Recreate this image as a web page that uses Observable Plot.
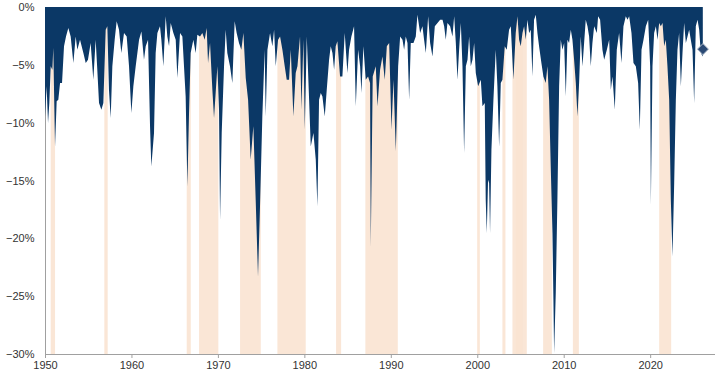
<!DOCTYPE html>
<html>
<head>
<meta charset="utf-8">
<script src="https://cdn.jsdelivr.net/npm/d3@7"></script>
<script src="https://cdn.jsdelivr.net/npm/@observablehq/plot@0.6"></script>
<style>
  html, body { margin: 0; padding: 0; background: #fff; }
  svg { display: block; }
</style>
</head>
<body>
<div id="chart"></div>
<script>
// Drawdown (%) by decimal year, grouped by era
const era1950s = [
  [1950.00,-9.46],[1950.19,-6.86],[1950.35,-10.03],[1950.50,-8.30],[1950.66,-5.13],[1950.85,-5.42],[1950.96,-3.55],
  [1951.16,-12.05],[1951.35,-8.15],[1951.54,-8.01],[1951.74,-6.57],[1951.97,-6.57],[1952.20,-3.40],[1952.43,-2.54],
  [1952.70,-1.82],[1952.97,-2.54],[1953.28,-4.84],[1953.55,-2.54],[1953.74,-3.69],[1954.05,-2.83],[1954.44,-3.98],
  [1954.71,-4.84],[1954.97,-4.56],[1955.28,-3.11],[1955.59,-6.29],[1955.86,-2.83],[1956.05,-5.42],[1956.25,-8.30],
  [1956.52,-8.88],[1956.75,-8.30],[1957.02,-1.96],[1957.21,-1.67],[1957.40,-7.15],[1957.60,-9.60],[1957.79,-5.13],
  [1958.06,-2.83],[1958.29,-1.24],[1958.56,-1.96],[1958.83,-3.98],[1959.14,-2.25],[1959.45,-2.54],[1959.72,-5.13],
  [1959.99,-9.16],[1960.22,-6.86],[1960.49,-5.13],[1960.88,-2.83],[1961.15,-2.11],[1961.45,-4.56],[1961.65,-3.40],
  [1961.92,-2.83],[1962.15,-10.32],[1962.30,-13.78],[1962.61,-10.89]
];
const era1960s = [
  [1962.80,-3.98],[1963.00,-2.25],[1963.30,-1.67],[1963.46,-2.83],[1963.69,-5.13],[1963.96,-0.81],[1964.15,-2.54],
  [1964.35,-3.40],[1964.54,-1.38],[1964.85,-2.25],[1965.12,-2.83],[1965.31,-6.14],[1965.62,-2.25],[1965.89,-2.54],
  [1966.27,-7.73],[1966.47,-15.51],[1966.66,-9.16],[1966.85,-3.98],[1967.16,-2.83],[1967.43,-3.98],[1967.62,-2.39],
  [1967.93,-2.54],[1968.20,-2.25],[1968.47,-2.83],[1968.70,-1.82],[1968.86,-4.84],[1969.09,-3.11],[1969.36,-7.15],
  [1969.55,-9.60],[1969.74,-7.44],[1969.94,-5.13],[1970.13,-8.88],[1970.25,-18.39],[1970.44,-10.89],[1970.71,-5.13],
  [1970.90,-1.96],[1971.09,-3.98],[1971.40,-5.13],[1971.67,-6.57],[1971.94,-1.24],[1972.17,-2.25],[1972.44,-3.11],
  [1972.71,-3.69],[1972.95,-2.25],[1973.22,-6.14],[1973.49,-8.01],[1973.79,-13.20],[1974.10,-10.32],[1974.37,-16.66],
  [1974.64,-23.29],[1974.87,-17.24],[1975.14,-9.46],[1975.41,-3.69]
];
const era1970s = [
  [1975.53,-9.46],[1975.73,-3.69],[1976.03,-2.25],[1976.30,-3.40],[1976.50,-1.96],[1976.69,-5.13],[1976.96,-2.83],
  [1977.19,-2.54],[1977.46,-3.69],[1977.73,-5.13],[1977.96,-6.29],[1978.23,-6.29],[1978.43,-3.69],[1978.73,-9.46],
  [1979.00,-5.71],[1979.20,-5.13],[1979.50,-2.54],[1979.66,-8.88],[1979.89,-2.83],[1980.05,-10.61],[1980.28,-2.54],
  [1980.55,-8.01],[1980.74,-12.05],[1981.05,-10.89],[1981.32,-13.20],[1981.51,-17.24],[1981.70,-8.01],[1981.90,-7.44],
  [1982.09,-7.73],[1982.36,-9.46],[1982.59,-7.15],[1982.86,-4.56],[1983.05,-3.40],[1983.25,-3.98],[1983.44,-5.42],
  [1983.63,-3.40],[1983.82,-2.97],[1984.13,-6.00],[1984.40,-6.00],[1984.67,-2.25],[1984.98,-5.71],[1985.17,-3.69],
  [1985.44,-2.54],[1985.75,-1.67],[1985.95,-8.59],[1986.22,-3.69],[1986.45,-5.13],[1986.60,-7.44],[1986.83,-3.40],
  [1987.10,-6.29],[1987.37,-6.00],[1987.60,-6.57],[1987.68,-20.70],[1987.91,-6.00],[1988.14,-5.42]
];
const era1990s = [
  [1988.26,-5.13],[1988.46,-8.59],[1988.76,-5.42],[1989.03,-4.27],[1989.30,-6.29],[1989.54,-3.40],[1989.81,-3.11],
  [1990.08,-10.61],[1990.31,-6.29],[1990.58,-12.48],[1990.85,-5.13],[1991.08,-2.54],[1991.35,-2.83],[1991.54,-3.69],
  [1991.73,-2.54],[1991.93,-3.11],[1992.12,-8.01],[1992.31,-3.11],[1992.62,-3.11],[1992.89,-2.54],[1993.08,-0.67],
  [1993.39,-2.25],[1993.66,-1.67],[1993.85,-2.83],[1994.05,-3.98],[1994.32,-0.81],[1994.55,-3.11],[1994.82,-4.27],
  [1995.09,-1.67],[1995.40,-1.38],[1995.71,-1.10],[1995.98,-1.10],[1996.17,-1.67],[1996.36,-2.83],[1996.55,-1.38],
  [1996.86,-1.67],[1997.13,-2.54],[1997.33,-0.81],[1997.52,-3.11],[1997.71,-6.29],[1997.90,-3.69],[1998.10,-1.38],
  [1998.29,-5.13],[1998.48,-12.62],[1998.68,-5.13],[1998.87,-4.56],[1999.06,-2.54],[1999.25,-5.13],[1999.45,-4.56],
  [1999.64,-3.11],[1999.83,-5.71],[2000.10,-6.86],[2000.41,-6.29],[2000.60,-8.59],[2000.87,-8.30]
];
const era2000s = [
  [2000.98,-16.66],[2001.10,-19.54],[2001.25,-14.93],[2001.37,-15.22],[2001.48,-19.54],[2001.64,-12.34],[2001.87,-8.01],
  [2002.14,-3.69],[2002.33,-6.86],[2002.53,-12.05],[2002.72,-6.57],[2002.91,-6.29],[2003.18,-3.40],[2003.41,-3.69],
  [2003.68,-1.96],[2003.88,-1.67],[2004.18,-6.29],[2004.45,-2.25],[2004.65,-0.81],[2004.84,-2.83],[2005.03,-3.40],
  [2005.23,-2.25],[2005.42,-1.67],[2005.61,-2.83],[2005.80,-1.10],[2006.00,-2.25],[2006.19,-1.96],[2006.38,-6.00],
  [2006.57,-1.10],[2006.77,-0.67],[2006.96,-2.25],[2007.15,-3.40],[2007.42,-4.84],[2007.65,-6.00],[2007.92,-6.57],
  [2008.12,-5.13],[2008.31,-8.01],[2008.50,-13.78],[2008.70,-19.54],[2008.81,-25.30],[2008.89,-29.91],[2009.08,-24.73],
  [2009.27,-16.66],[2009.47,-6.86],[2009.66,-2.83],[2009.85,-3.69],[2010.05,-3.11],[2010.24,-7.73],[2010.43,-2.83],
  [2010.62,-3.11],[2010.82,-1.96],[2011.01,-2.83],[2011.20,-4.56],[2011.40,-6.57],[2011.59,-9.46],[2011.78,-6.57],
  [2011.97,-2.54],[2012.17,-5.13],[2012.36,-3.11],[2012.55,-1.10],[2012.75,-1.67],[2012.94,-2.54],[2013.13,-5.13],
  [2013.32,-3.11],[2013.52,-1.67]
];
const era2010s = [
  [2013.83,-2.25],[2013.98,-0.81],[2014.21,-1.10],[2014.48,-3.69],[2014.68,-4.56],[2014.99,-3.69],[2015.26,-2.83],
  [2015.45,-7.15],[2015.64,-6.00],[2015.91,-8.88],[2016.14,-3.69],[2016.41,-2.25],[2016.68,-4.84],[2016.91,-1.67],
  [2017.18,-0.81],[2017.38,-1.10],[2017.57,-0.81],[2017.84,-2.25],[2018.07,-4.84],[2018.34,-5.13],[2018.61,-6.57],
  [2018.80,-10.61],[2019.00,-3.69],[2019.23,-2.83],[2019.50,-1.67],[2019.77,-1.10],[2020.00,-5.13],[2020.08,-17.09],
  [2020.27,-5.13],[2020.46,-2.25],[2020.66,-1.67],[2020.85,-2.83],[2021.04,-1.38],[2021.23,-1.67],[2021.43,-1.38],
  [2021.62,-3.40],[2021.81,-2.83],[2022.00,-5.13],[2022.20,-8.01],[2022.39,-16.66],[2022.58,-21.56],[2022.78,-15.22],
  [2022.97,-8.01],[2023.16,-3.69],[2023.35,-2.25],[2023.55,-6.86],[2023.74,-3.98],[2023.93,-1.38],[2024.13,-3.11],
  [2024.32,-2.54],[2024.51,-1.96],[2024.70,-2.83],[2024.90,-3.69],[2025.09,-8.30],[2025.28,-1.67],[2025.48,-1.10],
  [2025.67,-1.96],[2025.86,-3.98],[2026.09,-4.27]
];
// Shaded periods [start, end]
const bandStarts = [1950.66,1956.86,1966.39,1967.82,1972.56,1976.88,1983.67,1987.06,1999.99,2002.91,2004.07,2004.45,2007.62,2011.06,2021.04];
const bandEnds   = [1951.16,1957.25,1966.86,1970.05,1974.96,1980.16,1984.25,1990.81,2000.30,2003.26,2005.73,2005.25,2008.63,2011.75,2022.43];
// Latest reading marker
const latestYear = 2026.05;
const latestValue = -3.6;
// Tick labels
const xTicks = [1950,1960,1970,1980,1990,2000,2010,2020];
const yTicks = [0,-5,-10,-15,-20,-25,-30];

const series = [...era1950s, ...era1960s, ...era1970s, ...era1990s, ...era2000s, ...era2010s]
  .map(([year, value]) => ({year, value}));
const bands = bandStarts.map((s, i) => ({start: s, end: bandEnds[i]}));

const chart = Plot.plot({
  width: 719,
  height: 377,
  marginLeft: 45,
  marginRight: 4,
  marginTop: 7,
  marginBottom: 23,
  style: {fontFamily: "Arial, 'Liberation Sans', sans-serif", fontSize: "11px", color: "#333", background: "#fff"},
  x: {domain: [1950, 2027.5]},
  y: {domain: [-30, 0]},
  marks: [
    Plot.rect(bands, {x1: "start", x2: "end", y1: -30, y2: 0, fill: "#f9e3d1", fillOpacity: 0.9}),
    Plot.ruleX([1950], {stroke: "#a0a0a0"}),
    Plot.ruleY([-30], {stroke: "#a0a0a0"}),
    Plot.areaY(series, {x: "year", y: "value", fill: "#0b3866"}),
    Plot.axisX({ticks: xTicks, tickFormat: "d", tickSize: 4, tickPadding: 3, stroke: "#a0a0a0", fill: "#333", label: null}),
    Plot.axisY({ticks: yTicks, tickFormat: d => (d < 0 ? "\u2212" : "") + Math.abs(d) + "%", tickSize: 0, tickPadding: 11, fill: "#333", label: null}),
    Plot.dot([{year: latestYear, value: latestValue}], {x: "year", y: "value", symbol: "diamond2", r: 5, fill: "#2b4a75", stroke: "#b8c2cf", strokeWidth: 1})
  ]
});
document.getElementById("chart").appendChild(chart);
</script>
</body>
</html>
